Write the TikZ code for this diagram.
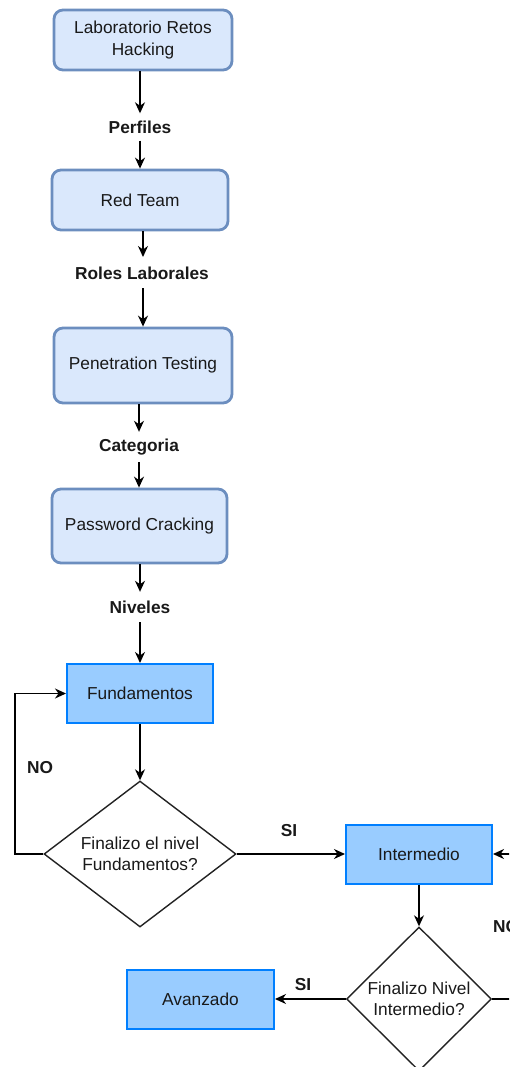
\documentclass[tikz,border=0pt]{standalone}
\usepackage{fontspec}
\setmainfont{Liberation Sans}
\usetikzlibrary{arrows.meta,shapes.geometric}
\definecolor{softfill}{HTML}{DAE8FC}
\definecolor{softline}{HTML}{6C8EBF}
\definecolor{levelfill}{HTML}{99CCFF}
\definecolor{levelline}{HTML}{007FFF}
\definecolor{inkline}{HTML}{222222}
\tikzset{
  every node/.style={font=\fontsize{17.3}{21.5}\selectfont, text=black!90},
  topicbox/.style={draw=softline, fill=softfill, line width=2.8pt, rounded corners=9pt,
    align=center, inner sep=0pt},
  levelbox/.style={draw=levelline, fill=levelfill, line width=2pt, inner sep=0pt,
    minimum width=146pt, minimum height=59pt},
  decision/.style={draw=inkline, fill=white, line width=1.4pt, diamond, inner sep=0pt},
  edgelabel/.style={font=\fontsize{17.3}{21.5}\selectfont\bfseries, fill=white, inner sep=0pt,
    minimum height=30pt},
  flow/.style={draw=black, line width=1.4pt, -{Stealth[length=11pt,width=10pt,inset=3.5pt]}},
}
\begin{document}
\begin{tikzpicture}[x=1pt,y=-1pt]
\useasboundingbox (0,0) rectangle (509,1067);
\clip (0,0) rectangle (509,1067);

% profile chain
\node[topicbox, minimum width=178pt, minimum height=60pt] (lab) at (143,40) {Laboratorio Retos\\Hacking};
\node[edgelabel, minimum height=27pt] (perf) at (140,127) {Perfiles};
\node[topicbox, minimum width=176pt, minimum height=60pt] (red) at (140,200) {Red Team};
\node[edgelabel] (roles) at (142,273) {Roles Laborales};
\node[topicbox, minimum width=178pt, minimum height=75pt] (pen) at (143,365.5) {Penetration Testing};
\node[edgelabel] (cat) at (139,447) {Categoria};
\node[topicbox, minimum width=175pt, minimum height=74pt] (pass) at (139.5,526) {Password Cracking};
\node[edgelabel] (niv) at (140,607) {Niveles};

\coordinate (rolesTop) at (143,257);
\coordinate (rolesBot) at (143,288);

\draw[flow] (lab.south -| perf) -- (perf);
\draw[flow] (perf) -- (perf |- red.north);
\draw[flow] (red.south -| rolesTop) -- (rolesTop);
\draw[flow] (rolesBot) -- (rolesBot |- pen.north);
\draw[flow] (pen.south -| cat) -- (cat);
\draw[flow] (cat) -- (cat |- pass.north);
\draw[flow] (pass.south -| niv) -- (niv);

% levels
\node[levelbox] (fund) at (140,693.5) {Fundamentos};
\draw[flow] (niv) -- (niv |- fund.north);

\node[decision, minimum width=192pt, minimum height=146pt] (d1) at (140,854) {};
\node[align=center] (d1t) at (140,854) {Finalizo el nivel\\Fundamentos?};

\node[levelbox] (inter) at (419,854) {Intermedio};
\node[decision, minimum width=145pt, minimum height=144pt] (d2) at (419,999) {};
\node[align=center] (d2t) at (419,999) {Finalizo Nivel\\Intermedio?};

\node[levelbox, minimum width=147pt] (adv) at (200.5,999) {Avanzado};

\coordinate (loopL) at (15,854);
\coordinate (loopR) at (540,999);

\draw[flow] (fund) -- (d1.north);
\draw[flow] (d1.west) -- (loopL) |- (fund.west);
\draw[flow] (d1.east) -- (inter.west);
\draw[flow] (inter) -- (d2.north);
\draw[flow] (d2.west) -- (adv.east);
\draw[flow] (d2.east) -- (loopR) |- (inter.east);

% decision labels
\node[font=\fontsize{17.3}{21.5}\selectfont\bfseries] (no1) at (40,768) {NO};
\node[font=\fontsize{17.3}{21.5}\selectfont\bfseries] (si1) at (289,831) {SI};
\node[font=\fontsize{17.3}{21.5}\selectfont\bfseries] (si2) at (303,985) {SI};
\node[font=\fontsize{17.3}{21.5}\selectfont\bfseries, anchor=west, inner sep=0pt] (no2) at (493,927) {NO};
\end{tikzpicture}
\end{document}
